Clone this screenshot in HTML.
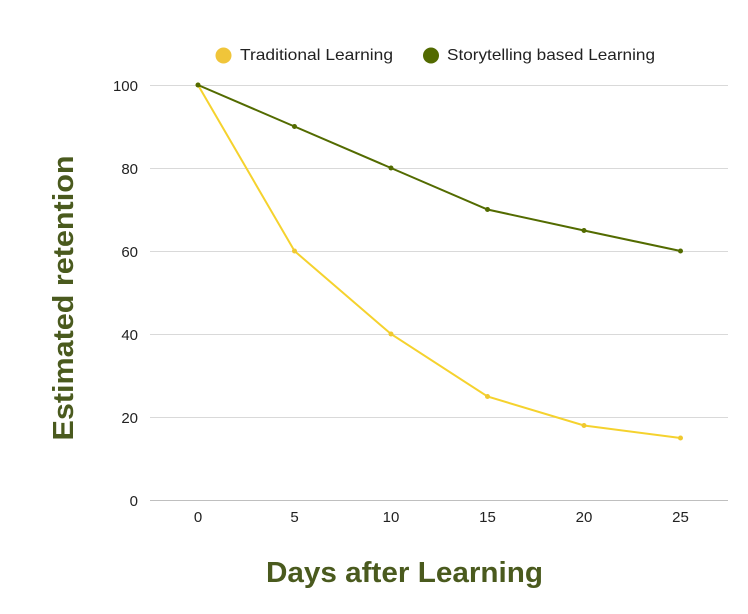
<!DOCTYPE html>
<html><head><meta charset="utf-8"><style>
html,body{margin:0;padding:0;background:#fff;}
svg{display:block;}
</style></head><body>
<svg width="748" height="614" viewBox="0 0 748 614" xmlns="http://www.w3.org/2000/svg" font-family="Liberation Sans, sans-serif">
<rect width="748" height="614" fill="#fff"/>
<!-- grid -->
<g stroke="#d9d9d9" stroke-width="1">
<line x1="150" y1="85.5" x2="728" y2="85.5"/>
<line x1="150" y1="168.5" x2="728" y2="168.5"/>
<line x1="150" y1="251.5" x2="728" y2="251.5"/>
<line x1="150" y1="334.5" x2="728" y2="334.5"/>
<line x1="150" y1="417.5" x2="728" y2="417.5"/>
</g>
<line x1="150" y1="500.5" x2="728" y2="500.5" stroke="#bfbfbf" stroke-width="1"/>
<!-- y labels -->
<g font-size="15" fill="#222" text-anchor="end">
<text x="138" y="91">100</text>
<text x="138" y="174">80</text>
<text x="138" y="257">60</text>
<text x="138" y="340">40</text>
<text x="138" y="423">20</text>
<text x="138" y="506">0</text>
</g>
<!-- x labels -->
<g font-size="15" fill="#222" text-anchor="middle">
<text x="198" y="522">0</text>
<text x="294.5" y="522">5</text>
<text x="391" y="522">10</text>
<text x="487.5" y="522">15</text>
<text x="584" y="522">20</text>
<text x="680.5" y="522">25</text>
</g>
<!-- yellow series -->
<polyline fill="none" stroke="#f5d22e" stroke-width="2" points="198,85 294.5,251 391,334 487.5,396.5 584,425.5 680.5,438"/>
<g fill="#f0c930">
<circle cx="198" cy="85" r="2.5"/><circle cx="294.5" cy="251" r="2.5"/><circle cx="391" cy="334" r="2.5"/><circle cx="487.5" cy="396.5" r="2.5"/><circle cx="584" cy="425.5" r="2.5"/><circle cx="680.5" cy="438" r="2.5"/>
</g>
<!-- green series -->
<polyline fill="none" stroke="#536b00" stroke-width="2" points="198,85 294.5,126.5 391,168 487.5,209.5 584,230.5 680.5,251"/>
<g fill="#536b00">
<circle cx="198" cy="85" r="2.5"/><circle cx="294.5" cy="126.5" r="2.5"/><circle cx="391" cy="168" r="2.5"/><circle cx="487.5" cy="209.5" r="2.5"/><circle cx="584" cy="230.5" r="2.5"/><circle cx="680.5" cy="251" r="2.5"/>
</g>
<!-- legend -->
<circle cx="223.5" cy="55.5" r="8" fill="#f0c53a"/>
<text x="240" y="60" font-size="16" fill="#222" textLength="153" lengthAdjust="spacingAndGlyphs">Traditional Learning</text>
<circle cx="431" cy="55.5" r="8" fill="#526a00"/>
<text x="447" y="60" font-size="16" fill="#222" textLength="208" lengthAdjust="spacingAndGlyphs">Storytelling based Learning</text>
<!-- axis titles -->
<text x="404.5" y="582" font-size="29" font-weight="bold" fill="#4a5a1e" text-anchor="middle" textLength="277" lengthAdjust="spacingAndGlyphs">Days after Learning</text>
<text transform="translate(73,298) rotate(-90)" x="0" y="0" font-size="29" font-weight="bold" fill="#4a5a1e" text-anchor="middle" textLength="285" lengthAdjust="spacingAndGlyphs">Estimated retention</text>
</svg>
</body></html>
